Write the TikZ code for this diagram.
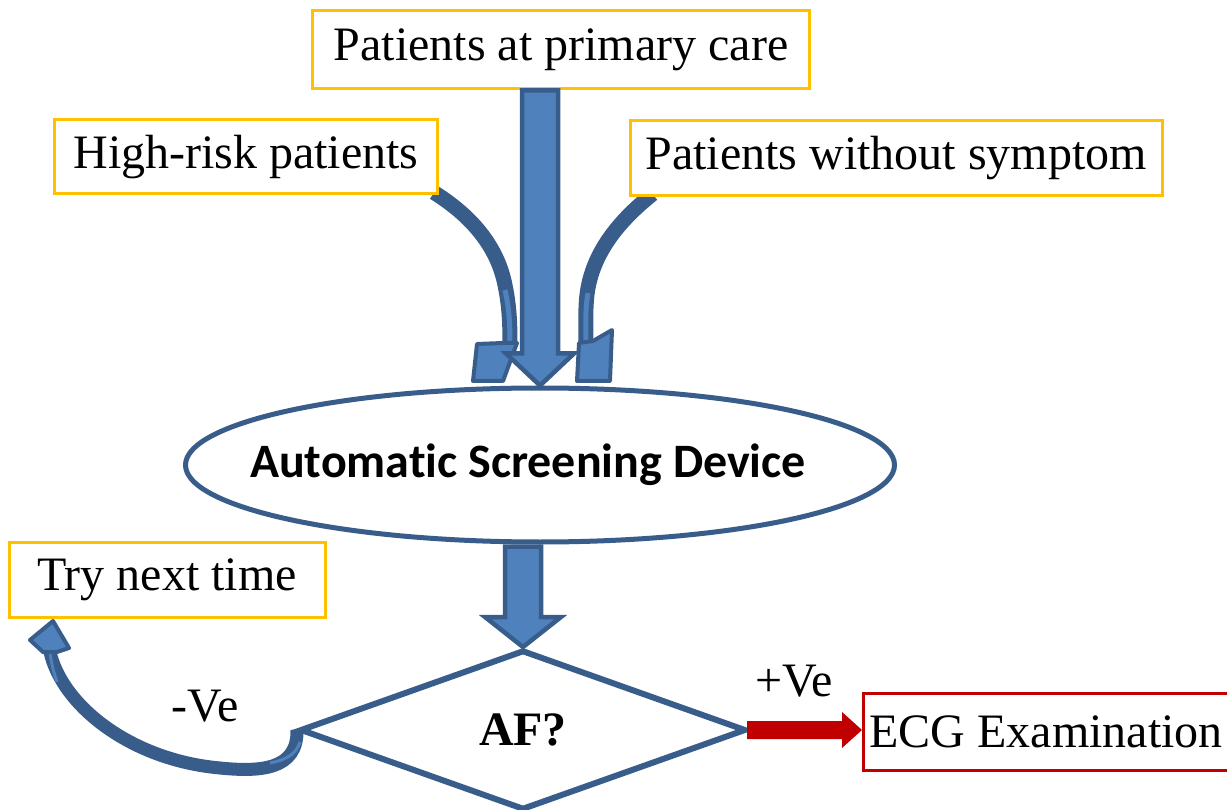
\documentclass[tikz,border=0pt]{standalone}
\usepackage{fontspec}
\setmainfont{Liberation Serif}
\newfontfamily\calibfont[Ligatures={NoCommon}]{Carlito}
\usetikzlibrary{shapes.geometric,calc,backgrounds}
\definecolor{boxorange}{RGB}{255,192,0}
\definecolor{bdark}{RGB}{56,93,138}
\definecolor{blight}{RGB}{79,129,189}
\definecolor{ecgred}{RGB}{192,0,0}
\begin{document}
\begin{tikzpicture}[x=1pt,y=-1pt,
  obox/.style={draw=boxorange, line width=3pt, fill=white, inner sep=0pt, font=\fontsize{48}{56}\selectfont},
  lbl/.style={inner sep=0pt, font=\fontsize{48}{56}\selectfont},
  band/.style={draw=bdark, line width=15pt},
  stripe/.style={draw=blight, line width=5pt},
  fatarrow/.style={fill=blight, draw=bdark, line width=4.5pt, line join=miter},
  headshape/.style={fill=blight, draw=bdark, line width=4pt, line join=round},
]
\useasboundingbox (0,0) rectangle (1227,810);

% boxes
\node[obox, minimum width=497pt, minimum height=78pt] (top) at (561,50) {Patients at primary care};
\node[obox, minimum width=383pt, minimum height=74pt] (hr) at (246,157) {High-risk patients};
\node[obox, minimum width=532pt, minimum height=75pt] (ws) at (896,158) {Patients without symptom};
\node[obox, minimum width=316pt, minimum height=75pt] (tn) at (167,580) {Try next time};
\node[obox, draw=ecgred, anchor=west, minimum height=77pt, inner xsep=6pt] (ecg) at (862,732) {ECG Examination};

% ellipse and diamond
\node[ellipse, draw=bdark, line width=5pt, fill=white, minimum width=709pt, minimum height=154pt, inner sep=0pt,
      font=\calibfont\bfseries\fontsize{48}{56}\selectfont] (ell) at (540,465) {\makebox[0pt]{\kern-24pt Automatic Screening Device}};
\node[diamond, draw=bdark, line width=6pt, shape aspect=2.79, minimum width=446pt, minimum height=160pt,
      inner sep=0pt, font=\bfseries\fontsize{48}{56}\selectfont] (dia) at (523,730) {AF?};

% labels
\node[lbl] (neg) at (205,706) {-Ve};
\node[lbl] (pos) at (794,681) {+Ve};

% curved arrows from side boxes (behind boxes)
\begin{scope}[on background layer]
  \coordinate (ls) at ($(hr.south east)+(-5,-3)$);
  \coordinate (le) at (510,345);
  \draw[band] (ls) .. controls (470,215) and (497,245) .. (505,285) .. controls (509,305) and (510,320) .. (le);
  \draw[stripe] (505,290) .. controls (509,308) and (510,322) .. (le);
  \coordinate (rs) at ($(ws.south west)+(24,-3)$);
  \coordinate (re) at (586,345);
  \draw[band] (rs) .. controls (620,220) and (595,250) .. (588,288) .. controls (585,305) and (586,320) .. (re);
  \draw[stripe] (588,293) .. controls (585,310) and (586,322) .. (re);
\end{scope}
\filldraw[headshape] (503,343) -- (477,344) -- (473,381) -- (503,381) -- (517,343) -- cycle;
\filldraw[headshape] (593,341) -- (612,330) -- (610,381) -- (577,381) -- (579,343) -- cycle;

% central arrow
\coordinate (a1s) at (ell.north |- top.south);
\filldraw[fatarrow] ($(a1s)+(-18,0)$) -- ($(a1s)+(18,0)$) -- ($(ell.north)+(18,-32)$) -- ($(ell.north)+(34,-32)$)
  -- (ell.north) -- ($(ell.north)+(-34,-32)$) -- ($(ell.north)+(-18,-32)$) -- cycle;

% arrow ellipse -> diamond
\coordinate (a2s) at ($(dia.north |- ell.south)+(0,2)$);
\filldraw[fatarrow] ($(a2s)+(-18,0)$) -- ($(a2s)+(18,0)$) -- ($(dia.north)+(18,-30)$) -- ($(dia.north)+(38,-30)$)
  -- (dia.north) -- ($(dia.north)+(-38,-30)$) -- ($(dia.north)+(-18,-30)$) -- cycle;

% red arrow diamond -> ECG
\coordinate (rt) at (dia.east -| ecg.west);
\fill[ecgred] ($(dia.east)+(-2,-9)$) -- ($(rt)+(-20,-9)$) -- ($(rt)+(-20,-18)$) -- (rt)
  -- ($(rt)+(-20,18)$) -- ($(rt)+(-20,9)$) -- ($(dia.east)+(-2,9)$) -- cycle;

% negative branch curved arrow
\coordinate (ne) at (50,652);
\draw[band, line width=13pt] (dia.west) .. controls (298,770) and (260,772) .. (220,768) .. controls (130,760) and (62,705) .. (ne);
\draw[stripe, line width=3pt] (300,742) .. controls (296,755) and (285,760) .. (270,763);
\draw[stripe, line width=3pt] (57,682) .. controls (53,670) and (51,662) .. (ne);
\filldraw[headshape] (43,652) -- (30,640) -- (53,621) -- (69,648) -- (57,652) -- cycle;
\end{tikzpicture}
\end{document}
